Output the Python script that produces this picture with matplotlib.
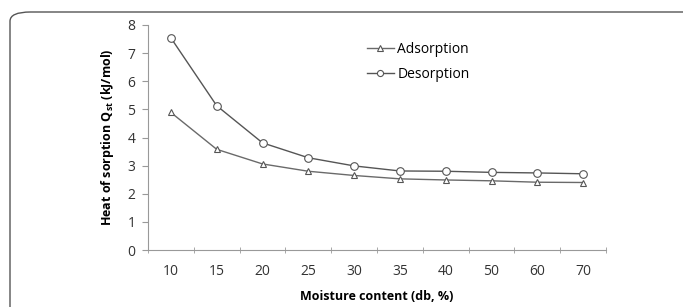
import numpy as np
import matplotlib.pyplot as plt
from matplotlib.patches import FancyBboxPatch

moisture = ["10", "15", "20", "25", "30", "35", "40", "50", "60", "70"]
adsorption = [4.89, 3.58, 3.06, 2.80, 2.65, 2.53, 2.49, 2.46, 2.41, 2.40]
desorption = [7.54, 5.13, 3.81, 3.28, 2.99, 2.81, 2.80, 2.76, 2.74, 2.71]

plt.rcParams['font.family'] = ['Open Sans', 'DejaVu Sans']

fig = plt.figure(figsize=(6.83, 3.07), dpi=100)

# rounded frame around the figure (cut at right and bottom)
frame = FancyBboxPatch((10 / 683, -0.3), 1.2, 1.3 - 12 / 307,
                       boxstyle="round,pad=0,rounding_size=0.03",
                       transform=fig.transFigure, fill=False,
                       edgecolor="#555555", linewidth=1.0, clip_on=False)
fig.patches.append(frame)

ax = fig.add_axes([148 / 683, 1 - 250 / 307, (606 - 148) / 683, (250 - 25) / 307])

x = np.arange(len(moisture))
ax.plot(x, adsorption, color="#6a6a6a", lw=1.0, marker="^", ms=5,
        mfc="white", mec="#555555", mew=0.8, label="Adsorption")
ax.plot(x, desorption, color="#555555", lw=1.0, marker="o", ms=5.5,
        mfc="white", mec="#555555", mew=0.8, label="Desorption")

ax.set_xlim(-0.5, len(moisture) - 0.5)
ax.set_ylim(0, 8)
ax.set_yticks(range(0, 9))
ax.set_xticks(x)
ax.set_xticklabels(moisture)
ax.set_xticks(np.arange(-0.5, len(moisture), 1.0), minor=True)
ax.tick_params(axis="x", which="major", length=0, pad=10, labelsize=10)
ax.tick_params(axis="x", which="minor", length=4, color="#999999", direction="inout")
ax.tick_params(axis="y", length=4, color="#999999", labelsize=10, pad=5)
for lbl in ax.get_yticklabels() + ax.get_xticklabels():
    lbl.set_color("#333333")

ax.spines["top"].set_visible(False)
ax.spines["right"].set_visible(False)
ax.spines["left"].set_color("#999999")
ax.spines["bottom"].set_color("#999999")

ax.set_ylabel("Heat of sorption Q$_{\\mathregular{st}}$ (kJ/mol)", fontsize=9,
              fontweight="bold", labelpad=8)
fig.text(377 / 683, 1 - 297 / 307, "Moisture content (db, %)", fontsize=9,
         fontweight="bold", ha="center", va="center")

ax.legend(loc="upper left", bbox_to_anchor=(0.45, 0.98), frameon=False,
          fontsize=10, handlelength=2.0, handletextpad=0.2, labelspacing=0.7,
          markerscale=0.8)

fig.savefig("out.png", dpi=100)
